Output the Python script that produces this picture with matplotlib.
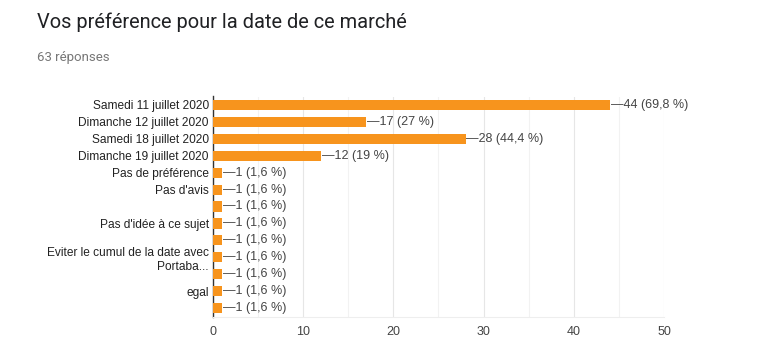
import matplotlib
matplotlib.use('Agg')
import matplotlib.pyplot as plt
from matplotlib.ticker import MultipleLocator

# Data
categories = [
    "Samedi 11 juillet 2020",
    "Dimanche 12 juillet 2020",
    "Samedi 18 juillet 2020",
    "Dimanche 19 juillet 2020",
    "Pas de préférence",
    "Pas d'avis",
    "",
    "Pas d'idée à ce sujet",
    "",
    "Eviter le cumul de la date avec\nPortaba...",
    "",
    "egal",
    "",
]
counts = [44, 17, 28, 12, 1, 1, 1, 1, 1, 1, 1, 1, 1]
total = 63
xticks = [0, 10, 20, 30, 40, 50]


def pct(n):
    s = f"{100 * n / total:.1f}".replace('.', ',')
    if s.endswith(',0'):
        s = s[:-2]
    return f"{n} ({s} %)"


W, H = 759, 352
fig = plt.figure(figsize=(W / 100, H / 100), dpi=100, facecolor='white')
ax = fig.add_axes([213 / W, 1 - 316.5 / H, (664 - 213) / W, (316.5 - 96.5) / H])

ypos = list(range(len(categories)))
ax.barh(ypos, counts, height=0.6, color='#f7941d', zorder=3)
ax.set_ylim(len(categories) - 0.5, -0.5)
ax.set_xlim(0, 50)

ax.set_yticks(ypos)
ax.set_yticklabels(categories, fontsize=8.6, color='#222222', family='Liberation Sans',
                   linespacing=1.25)
ax.tick_params(axis='y', length=0, pad=3)
ax.set_xticks(xticks)
ax.set_xticklabels([str(t) for t in xticks], fontsize=9, color='#444444', family='Liberation Sans')
ax.tick_params(axis='x', which='both', length=0, pad=7)
ax.xaxis.set_minor_locator(MultipleLocator(5))

ax.grid(True, axis='x', which='major', color='#e6e6e6', linewidth=0.8, zorder=0)
ax.grid(True, axis='x', which='minor', color='#f2f2f2', linewidth=0.8, zorder=0)
for side in ['top', 'right']:
    ax.spines[side].set_visible(False)
ax.spines['bottom'].set_color('#eeeeee')
ax.spines['left'].set_color('#333333')
ax.spines['left'].set_linewidth(1.0)

for y, v in zip(ypos, counts):
    ax.annotate('\u2014' + pct(v), xy=(v, y), xytext=(0.5, 0), textcoords='offset points',
                va='center', ha='left', fontsize=9, color='#444444', family='Liberation Sans')

fig.text(37 / W, 1 - 28 / H, "Vos préférence pour la date de ce marché",
         fontsize=14.4, color='#202124', family='Roboto', va='baseline')
fig.text(37 / W, 1 - 61 / H, "63 réponses",
         fontsize=9.5, color='#777777', family='Roboto', va='baseline')

fig.savefig('out.png', dpi=100, facecolor='white')
